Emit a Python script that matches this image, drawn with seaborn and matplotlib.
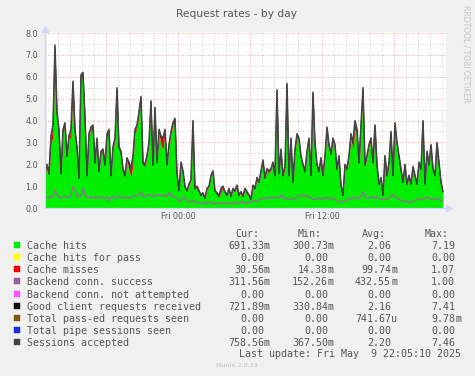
import numpy as np
import pandas as pd
import matplotlib
matplotlib.use("Agg")
import matplotlib.pyplot as plt
import matplotlib.dates as mdates
from matplotlib.patches import Rectangle
import seaborn as sns

# ---------------- data ----------------
start_time = "2025-05-08 12:55"
step = "10min"

sessions_accepted = [
    1.7, 2.0, 1.6, 3.3, 3.8, 7.45, 4.4, 3.6, 1.6, 3.6,
    3.9, 2.4, 3.3, 3.6, 5.8, 3.6, 2.8, 1.4, 6.1, 6.2,
    4.2, 1.5, 3.4, 3.7, 3.8, 2.1, 3.2, 1.7, 2.6, 2.7,
    2.0, 3.4, 3.6, 1.5, 2.8, 3.2, 5.5, 2.8, 2.6, 1.8,
    1.5, 2.3, 2.1, 1.8, 2.4, 3.6, 3.8, 4.4, 5.1, 2.1,
    2.0, 2.4, 3.0, 4.9, 2.0, 4.6, 2.1, 3.6, 3.3, 3.2,
    3.6, 2.0, 2.9, 3.5, 3.9, 4.1, 1.6, 0.8, 2.1, 1.7,
    1.0, 0.8, 1.1, 1.3, 4.0, 0.9, 1.0, 0.8, 0.6, 0.7,
    0.45, 0.9, 1.0, 1.5, 1.7, 0.8, 0.7, 0.55, 0.9, 1.0,
    0.75, 0.6, 0.9, 0.55, 0.9, 0.8, 1.05, 0.6, 0.75, 0.55,
    0.9, 0.75, 0.6, 0.4, 1.05, 0.9, 1.4, 1.2, 1.7, 2.2,
    1.4, 1.8, 1.7, 1.8, 2.1, 1.5, 5.4, 1.6, 2.7, 1.5,
    1.9, 5.7, 1.5, 3.2, 1.2, 2.7, 3.4, 3.2, 2.4, 2.0,
    1.7, 2.6, 3.2, 1.5, 5.3, 3.0, 2.0, 1.7, 2.3, 1.5,
    2.4, 3.7, 2.9, 2.5, 3.2, 2.9, 1.8, 2.4, 1.05, 0.6,
    2.0, 1.8, 2.4, 3.4, 3.0, 4.0, 3.6, 2.1, 3.8, 5.5,
    2.0, 2.4, 2.9, 3.2, 2.1, 3.8, 2.0, 1.1, 1.4, 0.6,
    2.4, 1.5, 2.1, 3.5, 1.5, 3.9, 3.0, 2.4, 1.8, 1.2,
    2.0, 1.1, 1.5, 1.1, 1.9, 1.5, 1.1, 2.1, 1.8, 4.0,
    1.1, 2.6, 2.0, 2.9, 1.8, 1.5, 3.0, 2.1, 1.2, 0.76,
]

cache_hits = [
    1.56, 1.84, 1.46, 2.89, 3.29, 7.19, 4.24, 3.46, 1.48, 3.44,
    3.74, 2.26, 3.14, 3.24, 5.24, 3.42, 2.66, 1.28, 5.92, 5.99,
    4.04, 1.38, 3.26, 3.54, 3.64, 1.98, 3.06, 1.58, 2.46, 2.56,
    1.88, 3.24, 3.44, 1.39, 2.66, 3.06, 5.32, 2.66, 2.46, 1.68,
    1.38, 2.16, 1.74, 1.39, 2.04, 3.44, 3.64, 4.22, 4.92, 1.98,
    1.88, 2.26, 2.86, 4.72, 1.88, 4.44, 1.98, 3.44, 2.84, 2.69,
    3.44, 1.88, 2.76, 3.34, 3.74, 3.94, 1.50, 0.73, 2.00, 1.61,
    0.93, 0.73, 1.03, 1.22, 3.86, 0.83, 0.93, 0.73, 0.54, 0.64,
    0.40, 0.83, 0.93, 1.42, 1.61, 0.73, 0.64, 0.50, 0.71, 0.93,
    0.69, 0.54, 0.83, 0.50, 0.83, 0.73, 0.97, 0.54, 0.68, 0.50,
    0.83, 0.69, 0.54, 0.35, 0.97, 0.83, 1.30, 1.11, 1.60, 2.09,
    1.31, 1.70, 1.60, 1.70, 1.99, 1.41, 5.22, 1.50, 2.56, 1.41,
    1.80, 5.52, 1.41, 3.06, 1.11, 2.56, 3.24, 3.06, 2.28, 1.88,
    1.59, 2.46, 3.06, 1.41, 5.12, 2.86, 1.88, 1.59, 2.18, 1.41,
    2.28, 3.54, 2.76, 2.38, 3.06, 2.76, 1.70, 2.28, 0.98, 0.54,
    1.89, 1.70, 2.28, 3.24, 2.64, 3.59, 3.44, 1.80, 3.44, 5.32,
    1.89, 2.28, 2.76, 3.06, 1.99, 3.64, 1.89, 1.03, 1.31, 0.54,
    2.28, 1.41, 1.99, 3.36, 1.41, 3.74, 2.86, 2.28, 1.70, 1.11,
    1.90, 1.03, 1.41, 1.03, 1.80, 1.41, 1.03, 2.00, 1.70, 3.84,
    1.03, 2.48, 1.90, 2.76, 1.70, 1.41, 2.86, 2.00, 1.13, 0.69,
]

cache_misses = [
    0.08, 0.10, 0.08, 0.35, 0.45, 0.15, 0.10, 0.08, 0.06, 0.10,
    0.10, 0.08, 0.10, 0.30, 0.50, 0.12, 0.08, 0.06, 0.12, 0.15,
    0.10, 0.06, 0.08, 0.10, 0.10, 0.06, 0.08, 0.06, 0.08, 0.08,
    0.06, 0.10, 0.10, 0.05, 0.08, 0.08, 0.12, 0.08, 0.08, 0.06,
    0.06, 0.08, 0.30, 0.35, 0.30, 0.10, 0.10, 0.12, 0.12, 0.06,
    0.06, 0.08, 0.08, 0.12, 0.06, 0.10, 0.06, 0.10, 0.40, 0.45,
    0.10, 0.06, 0.08, 0.10, 0.10, 0.10, 0.05, 0.03, 0.05, 0.04,
    0.03, 0.03, 0.03, 0.04, 0.08, 0.03, 0.03, 0.03, 0.02, 0.02,
    0.02, 0.03, 0.03, 0.04, 0.05, 0.03, 0.02, 0.02, 0.15, 0.03,
    0.02, 0.02, 0.03, 0.02, 0.03, 0.03, 0.04, 0.02, 0.03, 0.02,
    0.03, 0.02, 0.02, 0.02, 0.04, 0.03, 0.05, 0.04, 0.05, 0.06,
    0.04, 0.05, 0.05, 0.05, 0.06, 0.04, 0.12, 0.05, 0.08, 0.04,
    0.05, 0.12, 0.04, 0.08, 0.04, 0.08, 0.10, 0.08, 0.06, 0.06,
    0.05, 0.08, 0.08, 0.04, 0.12, 0.08, 0.06, 0.05, 0.06, 0.04,
    0.06, 0.10, 0.08, 0.06, 0.08, 0.08, 0.05, 0.06, 0.03, 0.02,
    0.06, 0.05, 0.06, 0.10, 0.30, 0.35, 0.10, 0.25, 0.30, 0.12,
    0.06, 0.06, 0.08, 0.08, 0.06, 0.10, 0.06, 0.03, 0.04, 0.02,
    0.06, 0.04, 0.06, 0.08, 0.04, 0.10, 0.08, 0.06, 0.05, 0.04,
    0.05, 0.03, 0.04, 0.03, 0.05, 0.04, 0.03, 0.05, 0.05, 0.10,
    0.03, 0.06, 0.05, 0.08, 0.05, 0.04, 0.08, 0.05, 0.03, 0.03,
]

backend_success = [
    0.48, 0.50, 0.45, 0.52, 0.55, 0.82, 0.60, 0.50, 0.47, 0.52,
    0.55, 0.50, 0.48, 0.62, 0.95, 0.88, 0.55, 0.50, 0.60, 0.90,
    0.62, 0.48, 0.50, 0.45, 0.52, 0.46, 0.50, 0.42, 0.48, 0.50,
    0.44, 0.50, 0.32, 0.48, 0.52, 0.45, 0.50, 0.55, 0.47, 0.50,
    0.44, 0.48, 0.50, 0.46, 0.52, 0.58, 0.55, 0.62, 0.75, 0.55,
    0.50, 0.56, 0.62, 0.58, 0.52, 0.60, 0.55, 0.62, 0.58, 0.55,
    0.60, 0.52, 0.70, 0.58, 0.55, 0.50, 0.45, 0.30, 0.35, 0.48,
    0.50, 0.32, 0.28, 0.30, 0.35, 0.25, 0.28, 0.24, 0.22, 0.25,
    0.20, 0.24, 0.28, 0.22, 0.25, 0.20, 0.22, 0.18, 0.24, 0.22,
    0.20, 0.25, 0.22, 0.18, 0.28, 0.22, 0.25, 0.20, 0.30, 0.22,
    0.28, 0.22, 0.25, 0.30, 0.28, 0.35, 0.30, 0.38, 0.42, 0.45,
    0.42, 0.48, 0.45, 0.50, 0.45, 0.48, 0.52, 0.45, 0.60, 0.50,
    0.42, 0.45, 0.38, 0.40, 0.45, 0.42, 0.48, 0.55, 0.58, 0.60,
    0.52, 0.58, 0.50, 0.45, 0.40, 0.38, 0.42, 0.45, 0.40, 0.45,
    0.42, 0.48, 0.45, 0.40, 0.45, 0.38, 0.32, 0.30, 0.28, 0.32,
    0.30, 0.35, 0.45, 0.42, 0.50, 0.45, 0.42, 0.48, 0.55, 0.75,
    0.50, 0.45, 0.48, 0.50, 0.52, 0.45, 0.50, 0.42, 0.38, 0.40,
    0.42, 0.38, 0.45, 0.55, 0.62, 0.50, 0.45, 0.40, 0.35, 0.30,
    0.32, 0.28, 0.30, 0.25, 0.30, 0.35, 0.40, 0.42, 0.38, 0.45,
    0.42, 0.50, 0.45, 0.40, 0.42, 0.38, 0.45, 0.40, 0.35, 0.31,
]

legend_labels = [
    "Cache hits", "Cache hits for pass", "Cache misses",
    "Backend conn. success", "Backend conn. not attempted",
    "Good client requests received", "Total pass-ed requests seen",
    "Total pipe sessions seen", "Sessions accepted",
]
legend_colors = [
    "#00EE00", "#FFFF00", "#EE0000", "#9C5C9C", "#FF55FF",
    "#111111", "#7A5A10", "#1E2EDD", "#444444",
]
cur_vals = ["691.33m", "0.00", "30.56m", "311.56m", "0.00", "721.89m", "0.00", "0.00", "758.56m"]
min_vals = ["300.73m", "0.00", "14.38m", "152.26m", "0.00", "330.84m", "0.00", "0.00", "367.50m"]
avg_vals = ["2.06", "0.00", "99.74m", "432.55m", "0.00", "2.16", "741.67u", "0.00", "2.20"]
max_vals = ["7.19", "0.00", "1.07", "1.00", "0.00", "7.41", "9.78m", "0.00", "7.46"]

title = "Request rates - by day"
last_update = "Last update: Fri May  9 22:05:10 2025"

# ---------------- style ----------------
sns.set_theme(style="white")
plt.rcParams["font.family"] = ["DejaVu Sans"]

W, H = 475, 376
TXT = "#555555"
AXC = "#CFD6F8"


def fx(x):
    return x / W


def fy(y):
    return 1 - y / H


fig = plt.figure(figsize=(W / 100, H / 100), dpi=100, facecolor="#F0F0F0")
ax = fig.add_axes([fx(45), fy(208), 401 / W, 176 / H])
ax.set_facecolor("white")

times = pd.date_range(start_time, periods=len(sessions_accepted), freq=step)
df = pd.DataFrame({
    "time": times,
    "sessions": sessions_accepted,
    "hits": cache_hits,
    "misses": cache_misses,
    "backend": backend_success,
})
stack_top = df["hits"] + df["misses"]

ax.fill_between(df["time"], 0, df["hits"], color=legend_colors[0], lw=0, zorder=2)
ax.fill_between(df["time"], df["hits"], stack_top, color=legend_colors[2], lw=0, zorder=2)
sns.lineplot(data=df, x="time", y="backend", ax=ax, color="#957095", lw=1.0, zorder=3)
sns.lineplot(x=df["time"], y=stack_top, ax=ax, color="#111111", lw=0.6, zorder=4)
sns.lineplot(data=df, x="time", y="sessions", ax=ax, color="#444444", lw=1.1, zorder=5)

x0 = pd.Timestamp("2025-05-08 12:55")
x1 = pd.Timestamp("2025-05-09 22:20")
ax.set_xlim(x0, x1)
ax.set_ylim(0, 8.046)
ax.set_xlabel("")
ax.set_ylabel("")

ax.set_yticks(np.arange(0, 8.01, 1.0))
ax.set_yticks(np.arange(0.5, 8.0, 1.0), minor=True)
ax.yaxis.set_major_formatter(plt.FuncFormatter(lambda v, p: f"{v:.1f}"))

ax.xaxis.set_major_locator(mdates.HourLocator(byhour=[0, 6, 12, 18]))
ax.xaxis.set_minor_locator(mdates.HourLocator())


def xfmt(v, p):
    d = mdates.num2date(v)
    if d.hour in (0, 12):
        return d.strftime("%a %H:%M")
    return ""


ax.xaxis.set_major_formatter(plt.FuncFormatter(xfmt))

dot = (0, (1, 1.5))
ax.set_axisbelow(True)
ax.grid(which="major", color="#F2B0B0", ls=dot, lw=0.72)
ax.grid(which="minor", color="#D4D4D4", ls=dot, lw=0.72)

ax.tick_params(axis="both", which="both", length=0, labelsize=5.8, labelcolor=TXT)
ax.tick_params(axis="y", pad=5)
ax.tick_params(axis="x", pad=3)

for s in ["top", "right"]:
    ax.spines[s].set_visible(False)
for s in ["left", "bottom"]:
    ax.spines[s].set_color(AXC)
    ax.spines[s].set_linewidth(0.9)
    ax.spines[s].set_zorder(6)

ax.plot([0], [(208 - 29) / 176], marker="^", ms=4, color=AXC, transform=ax.transAxes, clip_on=False, zorder=7)
ax.plot([(449 - 45) / 401], [0], marker=">", ms=4, color=AXC, transform=ax.transAxes, clip_on=False, zorder=7)

# ---------------- texts ----------------
fig.text(fx(237), fy(17.3), title, ha="center", va="baseline", fontsize=7.7, color=TXT)
fig.text(fx(466), fy(5), "RRDTOOL / TOBI OETIKER", rotation=270, ha="center", va="top",
         fontsize=5.5, color="#C4C4C4")

mono = "DejaVu Sans Mono"
MFS = 7.2
CW = 6.0
base0 = 249.3
dy = 12.05

headers = [("Cur:", 235), ("Min:", 298), ("Avg:", 362), ("Max:", 425)]
for h, xh in headers:
    fig.text(fx(xh), fy(base0 - dy), h, ha="left", va="baseline", family=mono, fontsize=MFS, color=TXT)

col_ends = [270, 334, 397, 461]
cols = [cur_vals, min_vals, avg_vals, max_vals]
for k, lab in enumerate(legend_labels):
    b = base0 + dy * k
    fig.patches.append(Rectangle((fx(14), fy(b - 1)), 6 / W, 6 / H, transform=fig.transFigure,
                                 facecolor=legend_colors[k], edgecolor=legend_colors[k], lw=0.3))
    fig.text(fx(27), fy(b), lab, ha="left", va="baseline", family=mono, fontsize=MFS, color=TXT)
    for vals, xe in zip(cols, col_ends):
        v = vals[k]
        num, suf = (v[:-1], v[-1]) if v[-1].isalpha() else (v, "")
        fig.text(fx(xe - CW), fy(b), num, ha="right", va="baseline", family=mono, fontsize=MFS, color=TXT)
        if suf:
            fig.text(fx(xe - CW), fy(b), suf, ha="left", va="baseline", family=mono, fontsize=MFS, color=TXT)

fig.text(fx(461), fy(356.7), last_update, ha="right", va="baseline", family=mono, fontsize=MFS, color=TXT)
fig.text(fx(237), fy(367), "Munin 2.0.33", ha="center", va="baseline", fontsize=4.6, color="#C0C0C0")

fig.savefig("out.png", dpi=100, facecolor=fig.get_facecolor())
